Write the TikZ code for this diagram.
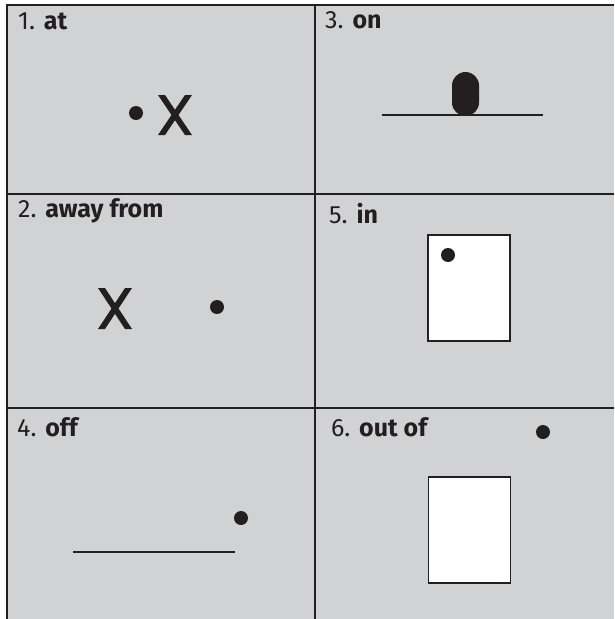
\documentclass[tikz,border=0pt]{standalone}
\usepackage{fontspec}
\setmainfont{Fira Sans}
\definecolor{cellgrey}{HTML}{D1D2D4}
\definecolor{ink}{HTML}{231F20}
\begin{document}
\begin{tikzpicture}[x=1pt,y=-1pt,
  gridline/.style={draw=ink,line width=2pt},
  dot/.style={circle,fill=ink,inner sep=0pt,minimum size=14pt},
  celltitle/.style={anchor=base west,inner sep=0pt,font=\fontsize{25}{29}\selectfont,text=ink},
  whitebox/.style={draw=ink,fill=white,line width=1.2pt,inner sep=0pt,minimum width=82pt,minimum height=106pt},
  flatline/.style={draw=ink,line width=2.2pt},
  cross/.style={fill=ink}]
\useasboundingbox (0,0) rectangle (615,619);
\fill[cellgrey] (6,5) rectangle (614,619);
\draw[gridline] (6,5) -- (614,5);
\draw[gridline] (6.5,5) -- (6.5,619);
\draw[gridline] (314.5,5) -- (314.5,619);
\draw[gridline] (6,193.5) -- (614,193.5);
\draw[gridline] (6,408) -- (614,408);
% cell 1: at
\node[celltitle] (t1) at (18,29) {1. \textbf{at}};
\node[dot] (d1) at (136,113) {};
\fill[cross] (158,95) -- (165,95) -- (192,135) -- (185,135) -- cycle;
\fill[cross] (185,95) -- (192,95) -- (165,135) -- (158,135) -- cycle;
% cell 3: on
\node[celltitle] (t3) at (325,28) {3. \textbf{on}};
\coordinate (l3a) at (382,115);
\coordinate (l3b) at (543,115);
\draw[flatline] (l3a) -- (l3b);
\node[fill=ink,inner sep=0pt,minimum width=27pt,minimum height=44pt,rounded corners=13.5pt] (cap) at (465.5,94) {};
% cell 2: away from
\node[celltitle] (t2) at (18,217) {2. \textbf{away from}};
\fill[cross] (98,288) -- (105,288) -- (132,329) -- (125,329) -- cycle;
\fill[cross] (125,288) -- (132,288) -- (105,329) -- (98,329) -- cycle;
\node[dot] (d2) at (217,307) {};
% cell 5: in
\node[celltitle] (t5) at (329,223) {5. \textbf{in}};
\node[whitebox] (b5) at (469,288) {};
\node[dot] (d5) at (448,255) {};
% cell 4: off
\node[celltitle] (t4) at (17,436) {4. \textbf{off}};
\coordinate (l4a) at (73,552);
\coordinate (l4b) at (235,552);
\draw[flatline] (l4a) -- (l4b);
\node[dot] (d4) at (241,518) {};
% cell 6: out of
\node[celltitle] (t6) at (331,436) {6. \textbf{out of}};
\node[whitebox] (b6) at (469.5,530) {};
\node[dot] (d6) at (543,432) {};
\end{tikzpicture}
\end{document}
